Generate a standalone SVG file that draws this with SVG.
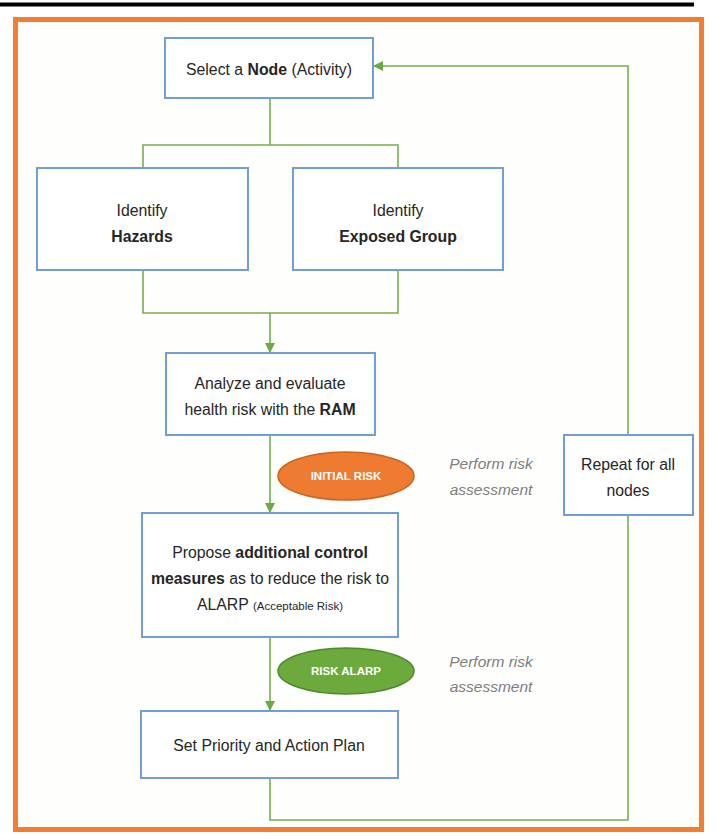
<svg xmlns="http://www.w3.org/2000/svg" width="716" height="836" viewBox="0 0 716 836">
<defs>
<marker id="ah" markerWidth="10" markerHeight="10" refX="9" refY="5" orient="auto" markerUnits="userSpaceOnUse">
<path d="M0,0 L10,5 L0,10 Z" fill="#6AAB3F"/>
</marker>
<style>
.box{fill:#FFFFFF;stroke:#6F9FD6;stroke-width:2}
.t{font-family:"Liberation Sans",Arial,sans-serif;font-size:15.8px;fill:#262626;text-anchor:middle}
.b{font-weight:bold}
.c{fill:none;stroke:#74B04C;stroke-width:1.6}
.it{font-family:"Liberation Sans",Arial,sans-serif;font-size:15.5px;font-style:italic;fill:#7F7F7F;text-anchor:middle}
.el{font-family:"Liberation Sans",Arial,sans-serif;font-size:11.5px;fill:#FFFFFF;text-anchor:middle;font-weight:bold}
</style>
</defs>
<rect x="0" y="0" width="716" height="836" fill="#FFFFFF"/>
<line x1="0" y1="4.5" x2="694" y2="4.5" stroke="#000000" stroke-width="4"/>
<rect x="15.5" y="19.5" width="686" height="810" fill="#FEFEFC" stroke="#F47E30" stroke-width="5"/>

<g id="connectors">
<polyline class="c" points="270,98 270,145"/>
<polyline class="c" points="143,168 143,145 398,145 398,168"/>
<polyline class="c" points="143,270 143,313 398,313 398,270"/>
<line class="c" x1="270" y1="313" x2="270" y2="352" marker-end="url(#ah)"/>
<line class="c" x1="270" y1="435" x2="270" y2="512" marker-end="url(#ah)"/>
<line class="c" x1="270" y1="637" x2="270" y2="710" marker-end="url(#ah)"/>
<polyline class="c" points="270,778 270,820 628,820 628,515"/>
<polyline class="c" points="628,435 628,66 374,66" marker-end="url(#ah)"/>
</g>

<g id="select-node">
<rect class="box" x="165" y="38" width="208" height="60"/>
<text class="t" x="269" y="75">Select a <tspan class="b">Node</tspan> (Activity)</text>
</g>
<g id="hazards">
<rect class="box" x="37" y="168" width="211" height="102"/>
<text class="t" x="142" y="216">Identify</text>
<text class="t b" x="142" y="242">Hazards</text>
</g>
<g id="exposed-group">
<rect class="box" x="293" y="168" width="210" height="102"/>
<text class="t" x="398" y="216">Identify</text>
<text class="t b" x="398" y="242">Exposed Group</text>
</g>
<g id="analyze">
<rect class="box" x="166" y="353" width="209" height="82"/>
<text class="t" x="270" y="389">Analyze and evaluate</text>
<text class="t" x="270" y="415">health risk with the <tspan class="b">RAM</tspan></text>
</g>
<g id="initial-risk">
<ellipse cx="346" cy="476" rx="68" ry="24" fill="#EE7B2F" stroke="#C9651F" stroke-width="1.5"/>
<text class="el" x="346" y="480">INITIAL RISK</text>
</g>
<g id="perform1">
<text class="it" x="491" y="469">Perform risk</text>
<text class="it" x="491" y="495">assessment</text>
</g>
<g id="propose">
<rect class="box" x="142" y="513" width="256" height="124"/>
<text class="t" x="270" y="558">Propose <tspan class="b">additional control</tspan></text>
<text class="t" x="270" y="584"><tspan class="b">measures</tspan> as to reduce the risk to</text>
<text class="t" x="270" y="610">ALARP <tspan font-size="11.5px">(Acceptable Risk)</tspan></text>
</g>
<g id="risk-alarp">
<ellipse cx="346" cy="671" rx="68" ry="23" fill="#6CAA3E" stroke="#4F8A2A" stroke-width="1.5"/>
<text class="el" x="346" y="675">RISK ALARP</text>
</g>
<g id="perform2">
<text class="it" x="491" y="667">Perform risk</text>
<text class="it" x="491" y="692">assessment</text>
</g>
<g id="set-priority">
<rect class="box" x="141" y="711" width="257" height="67"/>
<text class="t" x="269" y="751">Set Priority and Action Plan</text>
</g>
<g id="repeat">
<rect class="box" x="564" y="435" width="129" height="80"/>
<text class="t" x="628" y="470">Repeat for all</text>
<text class="t" x="628" y="496">nodes</text>
</g>
</svg>
